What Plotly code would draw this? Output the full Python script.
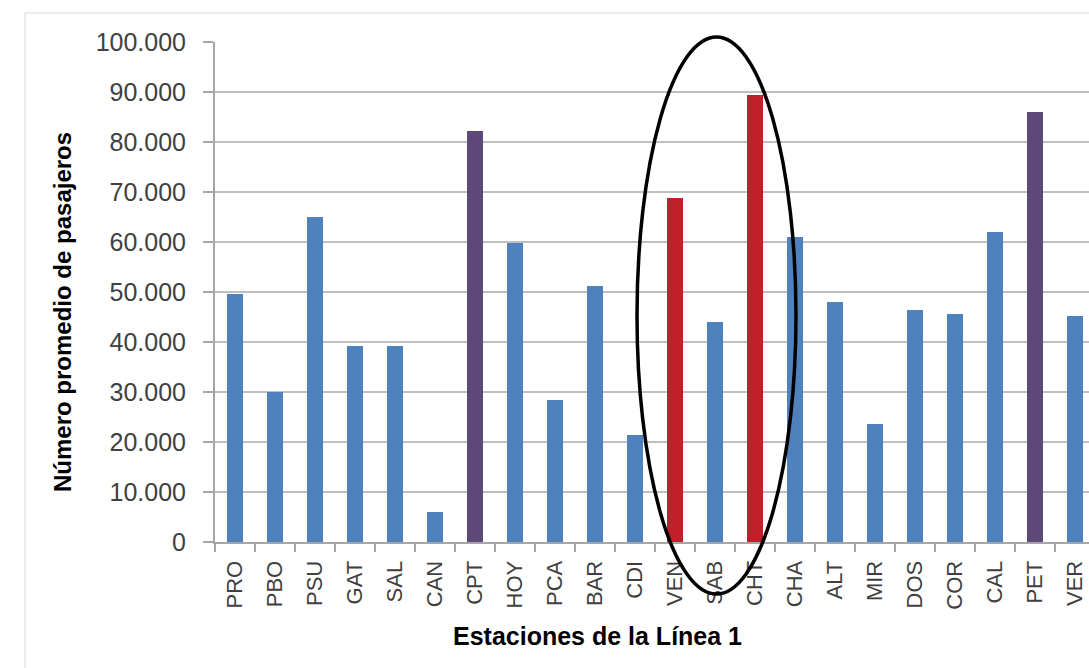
import plotly.graph_objects as go

estaciones = ["PRO", "PBO", "PSU", "GAT", "SAL", "CAN", "CPT", "HOY", "PCA", "BAR", "CDI",
              "VEN", "SAB", "CHT", "CHA", "ALT", "MIR", "DOS", "COR", "CAL", "PET", "VER"]
pasajeros = [49600, 30000, 65000, 39200, 39200, 6000, 82200, 59800, 28400, 51200, 21400,
             68800, 44000, 89400, 61000, 48000, 23600, 46400, 45600, 62000, 86000, 45200]
grupo = ["n", "n", "n", "n", "n", "n", "t", "n", "n", "n", "n",
         "r", "n", "r", "n", "n", "n", "n", "n", "n", "t", "n"]
y_ticks = [0, 10000, 20000, 30000, 40000, 50000, 60000, 70000, 80000, 90000, 100000]
y_tick_text = ["0", "10.000", "20.000", "30.000", "40.000", "50.000", "60.000",
               "70.000", "80.000", "90.000", "100.000"]

color_map = {"n": "#4F81BD", "t": "#5F497A", "r": "#C0202A"}
colors = [color_map[g] for g in grupo]

W, H = 1089, 668
L, T, B = 215, 42, 126
plot_w = W - L
plot_h = H - T - B

fig = go.Figure(go.Bar(
    x=estaciones, y=pasajeros, marker=dict(color=colors, line=dict(width=0)),
    width=0.4,
))

def px_x(p):
    return (p - L) / plot_w

def px_y(p):
    return (H - B - p) / plot_h

font = "Liberation Sans, Arial, sans-serif"

fig.update_layout(
    width=W, height=H,
    margin=dict(l=L, r=0, t=T, b=B),
    paper_bgcolor="white", plot_bgcolor="white",
    showlegend=False,
    font=dict(family=font, color="#404040"),
    xaxis=dict(
        type="category", range=[-0.5, 21.35],
        tickangle=-90, tickfont=dict(size=22, color="#404040"),
        ticks="outside", ticklen=8, tickcolor="#A6A6A6", tickwidth=1.5,
        tickson="boundaries", ticklabelstandoff=8,
        showline=True, linecolor="#A6A6A6", linewidth=2,
        showgrid=False, fixedrange=True,
    ),
    yaxis=dict(
        range=[0, 100000], tickvals=y_ticks, ticktext=y_tick_text,
        tickfont=dict(size=25, color="#404040"),
        ticks="outside", ticklen=10, tickcolor="#A6A6A6", tickwidth=1.5,
        ticklabelstandoff=12,
        showline=True, linecolor="#A6A6A6", linewidth=2,
        showgrid=True, gridcolor="#BFBFBF", gridwidth=2,
        zeroline=False, fixedrange=True,
    ),
    shapes=[
        dict(type="rect", xref="paper", yref="paper",
             x0=px_x(25), x1=px_x(1200), y0=px_y(13), y1=px_y(700),
             line=dict(color="#E3E3E3", width=1.5), layer="below"),
        dict(type="circle", xref="paper", yref="paper",
             x0=px_x(637), x1=px_x(796), y0=px_y(594), y1=px_y(37),
             line=dict(color="black", width=3.5), layer="above"),
    ],
    annotations=[
        dict(text="<b>Número promedio de pasajeros</b>", textangle=-90,
             xref="paper", yref="paper", x=px_x(62), y=px_y(312),
             xanchor="center", yanchor="middle",
             showarrow=False, font=dict(size=24, color="black", family=font)),
        dict(text="<b>Estaciones de la Línea 1</b>",
             xref="paper", yref="paper", x=px_x(597), y=px_y(636),
             xanchor="center", yanchor="middle",
             showarrow=False, font=dict(size=25, color="black", family=font)),
    ],
)

fig.write_html("out.html")
